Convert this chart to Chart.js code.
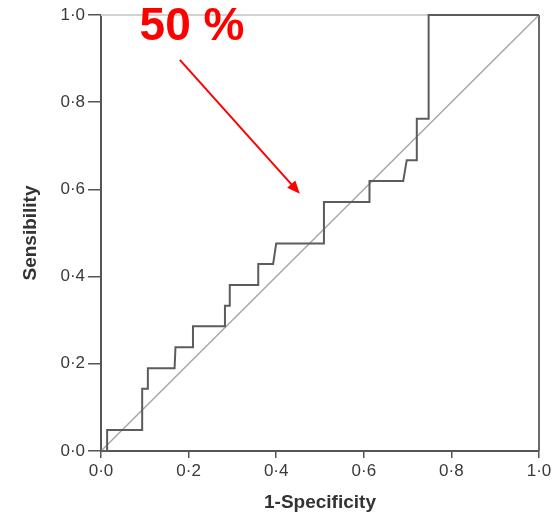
<!DOCTYPE html>
<html>
<head>
<meta charset="utf-8">
<script src="https://cdn.jsdelivr.net/npm/chart.js@4.4.0/dist/chart.umd.min.js"></script>
<style>
  html, body { margin: 0; padding: 0; background: #fff; }
  #wrap { width: 559px; height: 516px; }
</style>
</head>
<body>
<div id="wrap"><canvas id="roc"></canvas></div>
<script>
// ROC curve, corners of the step line
const FPR = [0, 0.014, 0.014, 0.094, 0.094, 0.107, 0.107, 0.168, 0.17, 0.21, 0.21, 0.283, 0.283, 0.294, 0.294,
  0.359, 0.359, 0.393, 0.40, 0.509, 0.509, 0.613, 0.613, 0.69, 0.698, 0.721, 0.721, 0.748, 0.748, 1];
const TPR = [0, 0, 0.048, 0.048, 0.143, 0.143, 0.190, 0.190, 0.238, 0.238, 0.286, 0.286, 0.333, 0.333, 0.381,
  0.381, 0.429, 0.429, 0.476, 0.476, 0.571, 0.571, 0.619, 0.619, 0.667, 0.667, 0.762, 0.762, 1, 1];

// reference line
const DIAG_X = [0, 1];
const DIAG_Y = [0, 1];

const TICKS = [0, 0.2, 0.4, 0.6, 0.8, 1.0];

// red note
const NOTE_TEXT = "50 %";
const NOTE_AT = [0.088, 0.943];
const ARROW_FROM = [0.18, 0.897];
const ARROW_TO = [0.454, 0.59];

const FONT = "'Liberation Sans', Arial, sans-serif";

const fmt = v => v.toFixed(1).replace(".", "\u00b7");

const frameAndNote = {
  id: "frameAndNote",
  beforeDatasetsDraw(chart) {
    const {ctx, chartArea: a} = chart;
    ctx.save();
    ctx.lineWidth = 2;
    ctx.strokeStyle = "#d2d2d2";
    ctx.beginPath();
    ctx.moveTo(a.left, a.top);
    ctx.lineTo(a.right, a.top);
    ctx.stroke();
    ctx.strokeStyle = "#6a6a6a";
    ctx.beginPath();
    ctx.moveTo(a.right, a.top);
    ctx.lineTo(a.right, a.bottom);
    ctx.stroke();
    ctx.restore();
  },
  afterDraw(chart) {
    const {ctx} = chart;
    const sx = chart.scales.x, sy = chart.scales.y;
    const px = v => sx.getPixelForValue(v);
    const py = v => sy.getPixelForValue(v);
    ctx.save();
    ctx.fillStyle = "#ff0000";
    ctx.strokeStyle = "#ff0000";
    ctx.font = "bold 46px " + FONT;
    ctx.textBaseline = "alphabetic";
    ctx.fillText(NOTE_TEXT, px(NOTE_AT[0]), py(NOTE_AT[1]));

    const x1 = px(ARROW_FROM[0]), y1 = py(ARROW_FROM[1]);
    const x2 = px(ARROW_TO[0]), y2 = py(ARROW_TO[1]);
    const ang = Math.atan2(y2 - y1, x2 - x1);
    const head = 14;
    ctx.lineWidth = 2;
    ctx.beginPath();
    ctx.moveTo(x1, y1);
    ctx.lineTo(x2 - Math.cos(ang) * head * 0.8, y2 - Math.sin(ang) * head * 0.8);
    ctx.stroke();
    ctx.beginPath();
    ctx.moveTo(x2, y2);
    ctx.lineTo(x2 - head * Math.cos(ang - 0.4), y2 - head * Math.sin(ang - 0.4));
    ctx.lineTo(x2 - head * Math.cos(ang + 0.4), y2 - head * Math.sin(ang + 0.4));
    ctx.closePath();
    ctx.fill();
    ctx.restore();
  }
};

new Chart(document.getElementById("roc"), {
  type: "scatter",
  data: {
    datasets: [{
      label: "ROC",
      data: FPR.map((x, i) => ({x: x, y: TPR[i]})),
      showLine: true,
      borderColor: "#5c5c5c",
      borderWidth: 2,
      pointRadius: 0,
      clip: false,
    }, {
      label: "Reference",
      data: DIAG_X.map((x, i) => ({x: x, y: DIAG_Y[i]})),
      showLine: true,
      borderColor: "#a8a8a8",
      borderWidth: 1.5,
      pointRadius: 0,
    }],
  },
  options: {
    responsive: true,
    maintainAspectRatio: false,
    animation: false,
    layout: {
      padding: {top: 15, right: 20, left: 0, bottom: 0},
    },
    plugins: {
      legend: {display: false},
      tooltip: {enabled: false},
    },
    scales: {
      x: {
        type: "linear",
        min: 0,
        max: 1,
        afterBuildTicks: s => { s.ticks = TICKS.map(v => ({value: v})); },
        afterFit: s => { s.height = 65; },
        ticks: {
          callback: v => fmt(v),
          font: {family: FONT, size: 17},
          color: "#3a3a3a",
          padding: 3,
          maxRotation: 0,
        },
        grid: {
          drawOnChartArea: false,
          tickLength: 7,
          color: "#555",
          lineWidth: 1.5,
        },
        border: {color: "#555", width: 2},
        title: {
          display: true,
          text: "1-Specificity",
          font: {family: FONT, size: 19, weight: "bold"},
          color: "#333",
          padding: {top: 0, bottom: 2},
        },
      },
      y: {
        type: "linear",
        min: 0,
        max: 1,
        afterBuildTicks: s => { s.ticks = TICKS.map(v => ({value: v})); },
        afterFit: s => { s.width = 101; },
        ticks: {
          callback: v => fmt(v),
          font: {family: FONT, size: 17},
          color: "#3a3a3a",
          padding: 3,
        },
        grid: {
          drawOnChartArea: false,
          tickLength: 13,
          color: "#555",
          lineWidth: 1.5,
        },
        border: {color: "#555", width: 2},
        title: {
          display: true,
          text: "Sensibility",
          font: {family: FONT, size: 19, weight: "bold"},
          color: "#333",
          padding: {top: 19, bottom: 0},
        },
      },
    },
  },
  plugins: [frameAndNote],
});
</script>
</body>
</html>
